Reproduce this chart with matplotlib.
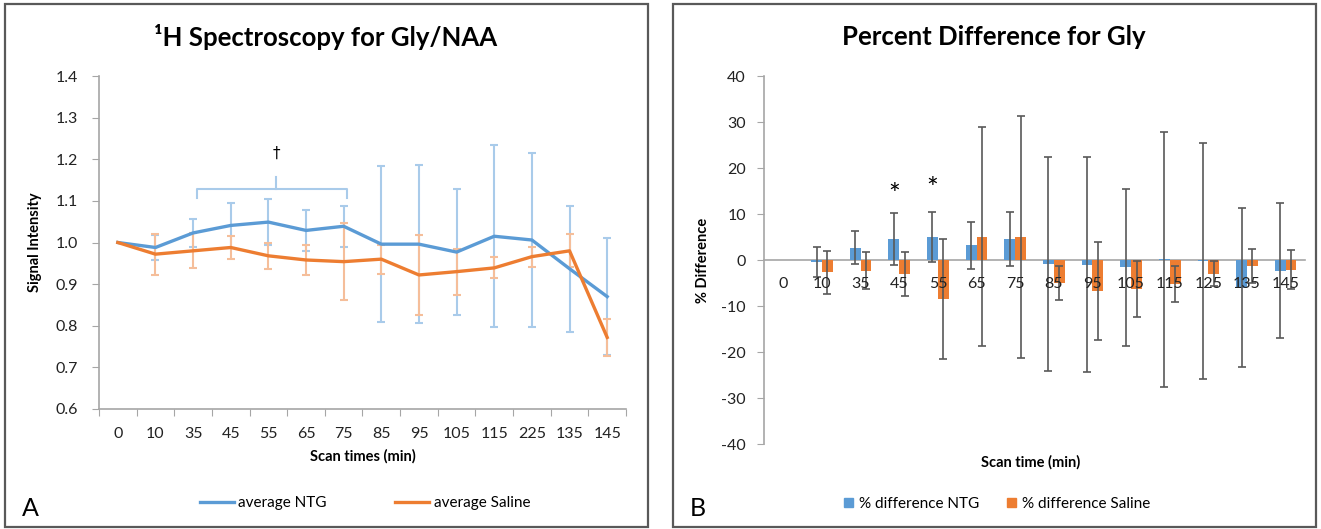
import numpy as np
import matplotlib
matplotlib.use("Agg")
import matplotlib.pyplot as plt
from matplotlib.patches import Rectangle, Patch
from matplotlib.lines import Line2D

plt.rcParams['font.family'] = ['Lato', 'DejaVu Sans']
plt.rcParams['axes.unicode_minus'] = False

# ---- panel A data: Gly/NAA signal intensity ----
scan_times_a = ['0', '10', '35', '45', '55', '65', '75', '85', '95', '105', '115', '225', '135', '145']
ntg_mean = [1.000, 0.988, 1.023, 1.041, 1.049, 1.029, 1.039, 0.996, 0.996, 0.977, 1.015, 1.006, 0.937, 0.870]
ntg_err = [0.0, 0.030, 0.033, 0.055, 0.056, 0.050, 0.049, 0.187, 0.190, 0.152, 0.219, 0.208, 0.151, 0.140]
sal_mean = [1.000, 0.972, 0.980, 0.988, 0.968, 0.958, 0.954, 0.960, 0.922, 0.930, 0.939, 0.966, 0.980, 0.772]
sal_err = [0.0, 0.049, 0.042, 0.028, 0.031, 0.036, 0.093, 0.035, 0.095, 0.055, 0.025, 0.024, 0.040, 0.044]

# ---- panel B data: percent difference ----
scan_times_b = ['0', '10', '35', '45', '55', '65', '75', '85', '95', '105', '115', '125', '135', '145']
pct_ntg = [0.0, -0.5, 2.7, 4.6, 5.0, 3.2, 4.6, -0.8, -1.0, -1.6, 0.2, -0.2, -6.0, -2.3]
pct_ntg_err = [0.0, 3.3, 3.6, 5.6, 5.5, 5.1, 5.8, 23.3, 23.3, 17.0, 27.7, 25.7, 17.3, 14.6]
pct_sal = [0.0, -2.7, -2.3, -3.0, -8.5, 5.1, 5.0, -5.0, -6.7, -6.3, -5.2, -3.0, -1.2, -2.1]
pct_sal_err = [0.0, 4.7, 4.0, 4.8, 13.0, 23.8, 26.3, 3.8, 10.7, 6.0, 3.9, 2.7, 3.7, 4.3]
sig_idx = [3, 4]
sig_y = [14.0, 15.2]

BLUE = '#5B9BD5'
ORANGE = '#ED7D31'
BLUE_LT = '#A9CBEA'
ORANGE_LT = '#F5BE9A'
AX_GRAY = '#A6A6A6'
ERR_GRAY = '#595959'

W, H = 1321, 529
fig = plt.figure(figsize=(W / 100, H / 100), dpi=100)


def fx(px):
    return px / W


def fy(py):
    return 1 - py / H


def with_err(xs, ys, errs):
    # the baseline point has no spread, so no bar is drawn for it
    m = np.asarray(errs) > 0
    return np.asarray(xs)[m], np.asarray(ys)[m], np.asarray(errs)[m]


# panel borders
for x0, x1 in [(5, 648), (673, 1316)]:
    fig.patches.append(Rectangle((fx(x0), fy(527)), fx(x1 - x0), (527 - 4) / H,
                                 transform=fig.transFigure, fill=False,
                                 edgecolor='#595959', linewidth=1.6))

# ---------------- panel A ----------------
ax1 = fig.add_axes([fx(99), fy(409), fx(626 - 99), (409 - 76) / H])
x = np.arange(len(scan_times_a))
ax1.errorbar(*with_err(x, ntg_mean, ntg_err), ecolor=BLUE_LT, fmt='none',
             elinewidth=1.5, capsize=3, capthick=1.5)
ax1.errorbar(*with_err(x, sal_mean, sal_err), ecolor=ORANGE_LT, fmt='none',
             elinewidth=1.5, capsize=3, capthick=1.5)
ax1.plot(x, ntg_mean, color=BLUE, lw=2.4, label='average NTG')
ax1.plot(x, sal_mean, color=ORANGE, lw=2.4, label='average Saline')

# significance bracket over 35-75 min
bx0, bx1, bxm = 2.1, 6.1, 4.2
by0, by1, bym = 1.107, 1.128, 1.158
ax1.plot([bx0, bx0, bx1, bx1], [by0, by1, by1, by0], color=BLUE_LT, lw=1.5)
ax1.plot([bxm, bxm], [by1, bym], color=BLUE_LT, lw=1.5)
ax1.text(bxm, 1.215, '\u2020', ha='center', va='center', fontsize=11, family='DejaVu Sans')

ax1.set_xlim(-0.5, len(scan_times_a) - 0.5)
ax1.set_ylim(0.6, 1.4)
ax1.set_yticks(np.arange(0.6, 1.41, 0.1))
ax1.set_yticklabels([f'{v:.1f}' for v in np.arange(0.6, 1.41, 0.1)])
ax1.set_xticks(np.arange(-0.5, len(scan_times_a), 1))
ax1.set_xticklabels([])
ax1.set_xticks(x, minor=True)
ax1.set_xticklabels(scan_times_a, minor=True)
ax1.tick_params(axis='x', which='major', length=5, color=AX_GRAY, direction='out')
ax1.tick_params(axis='x', which='minor', length=0, pad=13, labelsize=11.5, labelcolor='#222222')
ax1.tick_params(axis='y', length=5, color=AX_GRAY, pad=10, labelsize=11.5, labelcolor='#222222')
for s in ['top', 'right']:
    ax1.spines[s].set_visible(False)
for s in ['left', 'bottom']:
    ax1.spines[s].set_color(AX_GRAY)
    ax1.spines[s].set_linewidth(1.2)
ax1.set_xlabel('Scan times (min)', fontsize=10.5, fontweight='bold', labelpad=6)
ax1.set_ylabel('Signal Intensity', fontsize=10.5, fontweight='bold', labelpad=10)

fig.text(fx(326), fy(37), '\u00b9H Spectroscopy for Gly/NAA', ha='center', va='center',
         fontsize=18.5, fontweight='bold')
fig.text(fx(22), fy(509), 'A', ha='left', va='center', fontsize=18)
leg_a = [Line2D([], [], color=BLUE, lw=2.4), Line2D([], [], color=ORANGE, lw=2.4)]
fig.legend(leg_a, ['average NTG', 'average Saline'], loc='center',
           bbox_to_anchor=(fx(365), fy(503)), ncol=2, frameon=False, fontsize=11,
           handlelength=2.2, handletextpad=0.3, columnspacing=4.5)

# ---------------- panel B ----------------
ax2 = fig.add_axes([fx(764), fy(444), fx(1305 - 764), (444 - 76) / H])
ax2.set_axisbelow(False)
xb = np.arange(len(scan_times_b))
bw = 0.28
ekw = dict(ecolor=ERR_GRAY, elinewidth=1.2, capsize=3, capthick=1.2, fmt='none', zorder=2.2)
ax2.bar(xb - bw / 2, pct_ntg, bw, color=BLUE, label='% difference NTG', zorder=2)
ax2.bar(xb + bw / 2, pct_sal, bw, color=ORANGE, label='% difference Saline', zorder=2)
ax2.errorbar(*with_err(xb - bw / 2, pct_ntg, pct_ntg_err), **ekw)
ax2.errorbar(*with_err(xb + bw / 2, pct_sal, pct_sal_err), **ekw)
for i, yv in zip(sig_idx, sig_y):
    ax2.text(i - bw / 2, yv, '*', ha='center', va='center', fontsize=20)

ax2.set_xlim(-0.5, len(scan_times_b) - 0.5)
ax2.set_ylim(-40, 40)
ax2.set_yticks(np.arange(-40, 41, 10))
ax2.set_xticks(xb)
ax2.set_xticklabels(scan_times_b)
ax2.spines['bottom'].set_position(('data', 0))
ax2.spines['bottom'].set_zorder(1)
for s in ['top', 'right']:
    ax2.spines[s].set_visible(False)
for s in ['left', 'bottom']:
    ax2.spines[s].set_color(AX_GRAY)
    ax2.spines[s].set_linewidth(1.2)
ax2.tick_params(axis='x', length=0, pad=12, labelsize=11.5, labelcolor='#222222')
ax2.tick_params(axis='y', length=5, color=AX_GRAY, pad=8, labelsize=11.5, labelcolor='#222222')
ax2.set_ylabel('% Difference', fontsize=10.5, fontweight='bold', labelpad=8)
fig.text(fx(1031), fy(462), 'Scan time (min)', ha='center', va='center',
         fontsize=10.5, fontweight='bold')

fig.text(fx(994), fy(37), 'Percent Difference for Gly', ha='center', va='center',
         fontsize=18.5, fontweight='bold')
fig.text(fx(690), fy(509), 'B', ha='left', va='center', fontsize=18)
leg_b = [Patch(color=BLUE), Patch(color=ORANGE)]
fig.legend(leg_b, ['% difference NTG', '% difference Saline'], loc='center',
           bbox_to_anchor=(fx(997), fy(504)), ncol=2, frameon=False, fontsize=11,
           handlelength=0.6, handleheight=0.6, handletextpad=0.4, columnspacing=1.8)

fig.savefig('out.png', dpi=100)
